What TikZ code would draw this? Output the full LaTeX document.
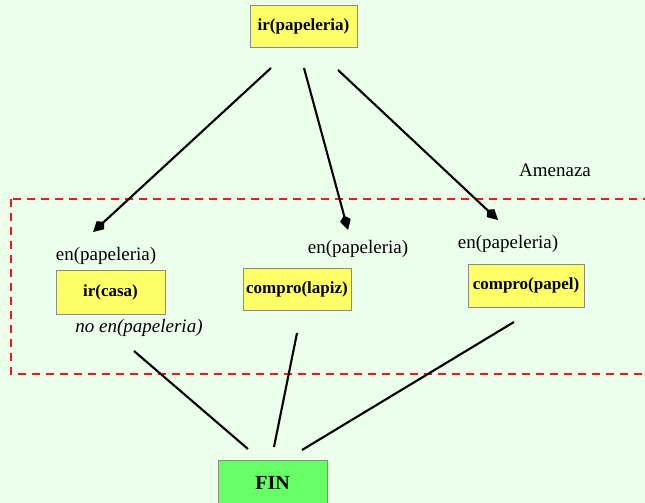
\documentclass[tikz,border=0pt]{standalone}
\usepackage{fontspec}
\setmainfont{Liberation Serif}
\usetikzlibrary{arrows.meta}
\definecolor{bgcol}{HTML}{EBFFEB}
\definecolor{actfill}{HTML}{FFFF66}
\definecolor{finfill}{HTML}{66FF66}
\definecolor{boxline}{HTML}{8A8A8A}
\definecolor{threat}{HTML}{F01818}
\tikzset{
  action/.style={draw=boxline, line width=0.8pt, fill=actfill, inner sep=0pt,
    font=\fontsize{17}{20}\selectfont\bfseries},
  finbox/.style={draw=boxline, line width=0.8pt, fill=finfill, inner sep=0pt,
    font=\fontsize{20}{24}\selectfont\bfseries},
  cond/.style={inner sep=0pt, font=\fontsize{19}{22}\selectfont},
  link/.style={line width=2.1pt, black},
  order/.style={link, -{Kite[length=15pt,width=11pt,inset=5pt]}},
  zone/.style={threat, line width=2.1pt, dash pattern=on 8pt off 6pt}
}
\begin{document}
\begin{tikzpicture}[x=1pt,y=-1pt]
  \fill[bgcol] (0,0) rectangle (645,503);
  \useasboundingbox (0,0) rectangle (645,503);
  \begin{scope}
    \clip (0,0) rectangle (645,503);
    % region under threat
    \draw[zone] (11,199) rectangle (660,374);
    \node[finbox, minimum width=109pt, minimum height=46pt] (fin) at (272.5,483) {FIN};
  \end{scope}
  \node[cond, anchor=base] (threatlabel) at (555,176) {Amenaza};

  % actions
  \node[action, minimum width=107pt, minimum height=42pt] (start) at (303.5,26) {ir(papeleria)};
  \node[action, minimum width=109pt, minimum height=44pt] (casa) at (110.5,292) {ir(casa)};
  \node[action, minimum width=108pt, minimum height=42pt] (lapiz) at (297,289) {compro(lapiz)};
  \node[action, minimum width=116pt, minimum height=43pt] (papel) at (526,285.5) {compro(papel)};

  % conditions
  \node[cond, anchor=base] (precasa) at (106,260) {en(papeleria)};
  \node[cond, anchor=base] (prelapiz) at (358,253) {en(papeleria)};
  \node[cond, anchor=base] (prepapel) at (508,248) {en(papeleria)};
  \node[cond, anchor=base, font=\fontsize{19}{22}\selectfont\itshape] (effcasa) at (139,332) {no en(papeleria)};

  % connector ends
  \coordinate (s1) at (271,68);
  \coordinate (s2) at (304,68);
  \coordinate (s3) at (338,70);
  \coordinate (e1) at (93,232);
  \coordinate (e2) at (348,230);
  \coordinate (e3) at (498,220);
  \coordinate (c1) at (134,351);
  \coordinate (c2) at (297,333);
  \coordinate (c3) at (514,322);
  \coordinate (f1) at (248,449);
  \coordinate (f2) at (274,447);
  \coordinate (f3) at (302,450);

  \draw[order] (s1) -- (e1);
  \draw[order] (s2) -- (e2);
  \draw[order] (s3) -- (e3);
  \draw[link] (c1) -- (f1);
  \draw[link] (c2) -- (f2);
  \draw[link] (c3) -- (f3);
\end{tikzpicture}
\end{document}
